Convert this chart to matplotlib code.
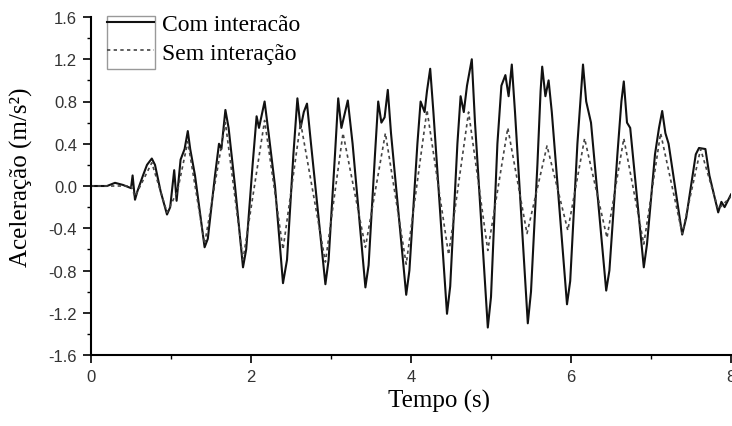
import matplotlib
matplotlib.use("Agg")
from matplotlib import pyplot as plt
from matplotlib.patches import Rectangle
from matplotlib.ticker import MultipleLocator, FormatStrFormatter

# valores (tempo em s, aceleracao em m/s2)
t_com = [0.0, 0.2, 0.3, 0.4, 0.5, 0.52, 0.55, 0.58, 0.65, 0.7, 0.76, 0.8, 0.87, 0.95, 0.99,
         1.04, 1.07, 1.12, 1.17, 1.21, 1.24, 1.3, 1.42, 1.46, 1.55, 1.6, 1.63, 1.68, 1.72,
         1.8, 1.9, 1.94, 2.02, 2.07, 2.1, 2.17, 2.22, 2.3, 2.4, 2.45, 2.53, 2.58, 2.62, 2.66,
         2.7, 2.75, 2.93, 2.97, 3.05, 3.09, 3.13, 3.17, 3.21, 3.27, 3.43, 3.47, 3.55, 3.59,
         3.63, 3.67, 3.71, 3.75, 3.94, 3.98, 4.08, 4.12, 4.17, 4.2, 4.24, 4.28, 4.45, 4.49,
         4.58, 4.62, 4.66, 4.7, 4.76, 4.8, 4.96, 5.0, 5.08, 5.13, 5.18, 5.22, 5.26, 5.3,
         5.46, 5.5, 5.58, 5.62, 5.64, 5.68, 5.72, 5.76, 5.95, 5.99, 6.08, 6.15, 6.19, 6.25,
         6.44, 6.48, 6.58, 6.63, 6.66, 6.7, 6.74, 6.91, 6.95, 7.05, 7.1, 7.14, 7.18, 7.22,
         7.39, 7.44, 7.56, 7.6, 7.68, 7.73, 7.84, 7.88, 7.92, 8.0]
a_com = [0.0, 0.0, 0.03, 0.01, -0.02, 0.1, -0.13, -0.05, 0.1, 0.2, 0.26, 0.2, -0.05, -0.27, -0.2,
         0.15, -0.14, 0.25, 0.35, 0.52, 0.35, 0.1, -0.58, -0.5, 0.1, 0.4, 0.35, 0.72, 0.55,
         0.0, -0.77, -0.6, 0.2, 0.66, 0.55, 0.8, 0.5, 0.0, -0.92, -0.7, 0.3, 0.83, 0.55, 0.7,
         0.78, 0.4, -0.93, -0.7, 0.3, 0.83, 0.55, 0.68, 0.81, 0.4, -0.96, -0.75, 0.3, 0.8,
         0.6, 0.65, 0.91, 0.5, -1.03, -0.8, 0.4, 0.8, 0.7, 0.9, 1.11, 0.7, -1.21, -0.95,
         0.4, 0.85, 0.7, 0.95, 1.2, 0.6, -1.34, -1.05, 0.4, 0.95, 1.05, 0.85, 1.15, 0.7,
         -1.3, -1.0, 0.2, 0.9, 1.13, 0.85, 1.0, 0.7, -1.12, -0.9, 0.4, 1.15, 0.8, 0.6,
         -0.99, -0.8, 0.3, 0.8, 0.99, 0.6, 0.55, -0.77, -0.55, 0.3, 0.55, 0.71, 0.5, 0.4,
         -0.46, -0.3, 0.3, 0.36, 0.35, 0.1, -0.25, -0.15, -0.2, -0.08]

t_sem = [0.0, 0.5, 0.55, 0.76, 0.95, 1.08, 1.21, 1.42, 1.68, 1.9, 2.17, 2.4, 2.62, 2.93,
         3.15, 3.43, 3.68, 3.94, 4.2, 4.47, 4.72, 4.96, 5.21, 5.45, 5.7, 5.96, 6.17, 6.45,
         6.66, 6.91, 7.12, 7.39, 7.62, 7.84, 8.0]
a_sem = [0.0, 0.0, -0.1, 0.22, -0.25, -0.05, 0.42, -0.55, 0.6, -0.7, 0.62, -0.6, 0.6, -0.72,
         0.5, -0.58, 0.5, -0.74, 0.72, -0.65, 0.7, -0.61, 0.55, -0.45, 0.38, -0.42, 0.45, -0.49,
         0.45, -0.55, 0.5, -0.45, 0.35, -0.22, -0.1]

serif = ['Liberation Serif', 'DejaVu Serif']
sans = 'Liberation Sans'

fig = plt.figure(figsize=(7.32, 4.27), dpi=100)
ax = fig.add_axes([91 / 732, 71 / 427, 640 / 732, 338 / 427])

ax.plot(t_com, a_com, color='#111111', lw=1.5, label='Com interacão')
ax.plot(t_sem, a_sem, color='#444444', lw=1.2, ls=(0, (2, 2)), label='Sem interação')

ax.set_xlim(0, 8)
ax.set_ylim(-1.6, 1.6)
ax.xaxis.set_major_locator(MultipleLocator(2))
ax.xaxis.set_minor_locator(MultipleLocator(1))
ax.yaxis.set_major_locator(MultipleLocator(0.4))
ax.yaxis.set_minor_locator(MultipleLocator(0.2))
ax.yaxis.set_major_formatter(FormatStrFormatter('%.1f'))

for s in ['top', 'right']:
    ax.spines[s].set_visible(False)
for s in ['left', 'bottom']:
    ax.spines[s].set_linewidth(1.5)

ax.tick_params(which='major', direction='out', length=6, width=1.2, pad=4, labelsize=12)
ax.tick_params(which='minor', direction='out', length=3, width=1.0)
for lab in ax.get_xticklabels() + ax.get_yticklabels():
    lab.set_family(sans)
    lab.set_color('#333333')

ax.set_xlabel('Tempo (s)', family=serif, fontsize=18)
ax.set_ylabel('Aceleração (m/s²)', family=serif, fontsize=18)
ax.xaxis.set_label_coords(0.544, -0.1)
ax.yaxis.set_label_coords(-0.09, 0.53)

leg = ax.legend(loc='upper left', bbox_to_anchor=(0.025, 1.01), frameon=False,
                borderpad=0, borderaxespad=0, handlelength=2.0, handletextpad=0.35,
                labelspacing=0.3, prop={'family': serif, 'size': 17})
ax.add_patch(Rectangle((0.025, 0.846), 0.075, 0.157, transform=ax.transAxes,
                       fill=False, ec='#999999', lw=1.0, clip_on=False))

fig.savefig('out.png', dpi=100)
